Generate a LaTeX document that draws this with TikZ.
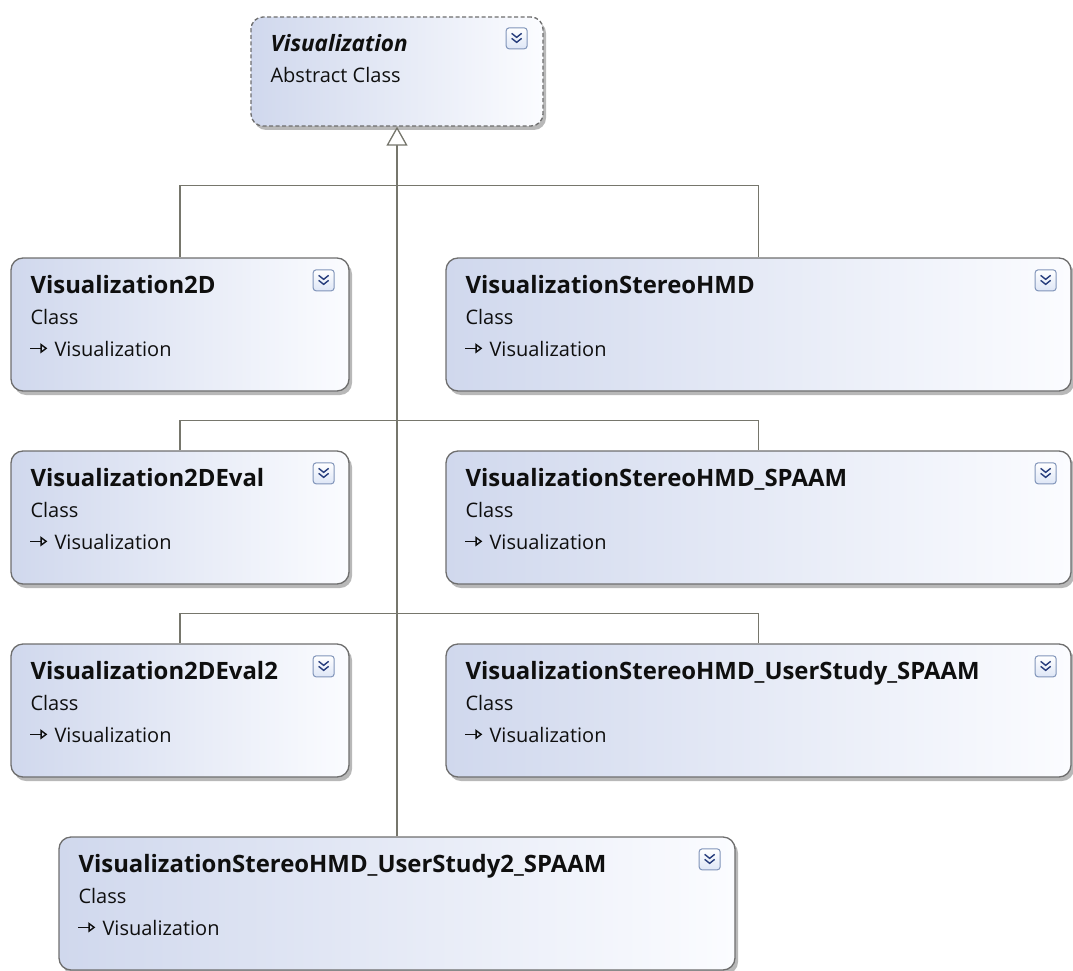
\documentclass[tikz,border=0pt]{standalone}
\usepackage{fontspec}
\setmainfont{Open Sans}
\usetikzlibrary{arrows.meta,shadows,calc}
\definecolor{lineC}{RGB}{118,118,108}
\definecolor{boxB}{RGB}{110,110,110}
\definecolor{fillL}{RGB}{208,216,237}
\definecolor{fillR}{RGB}{251,252,255}
\definecolor{icoB}{RGB}{128,148,185}
\definecolor{icoF}{RGB}{222,230,246}
\definecolor{chevC}{RGB}{40,62,125}
\definecolor{txtC}{RGB}{15,15,15}
\tikzset{
  umlbox/.style={draw=boxB, line width=1.3pt, rounded corners=12pt,
    left color=fillL, right color=fillR, inner sep=0pt,
    drop shadow={shadow xshift=3pt, shadow yshift=-4pt, fill=black, opacity=.28}},
  absbox/.style={umlbox, dash pattern=on 4pt off 2.5pt},
  ttl/.style={font=\fontsize{23.9}{27}\selectfont\bfseries, text=txtC, anchor=base west, inner sep=0pt},
  sub/.style={font=\fontsize{20}{24}\selectfont, text=txtC, anchor=base west, inner sep=0pt},
  icon/.style={draw=icoB, line width=1pt, rounded corners=3pt, minimum size=21pt,
    top color=white, bottom color=icoF, inner sep=0pt},
  chevron/.style={draw=chevC, line width=1.4pt},
  inh/.style={draw=txtC, line width=1.5pt, -{Triangle[open, length=7pt, width=10pt, line width=1.4pt]}},
  conn/.style={draw=lineC, line width=1.5pt},
}
\newcommand\clsbox[6]{%
  \node[#2, minimum width=#4pt, minimum height=#5pt] (#1) at (#3) {};
  \node[ttl] (#1-t) at ([shift={(20,36)}]#1.north west) {#6};
  \node[icon] (#1-i) at ([shift={(-26,23)}]#1.north east) {};
  \draw[chevron] ([shift={(-5,-5)}]#1-i.center) -- ++(5,4) -- ++(5,-4);
  \draw[chevron] ([shift={(-5,0)}]#1-i.center) -- ++(5,4) -- ++(5,-4);
}
\newcommand\clsinfo[1]{%
  \node[sub] (#1-k) at ([shift={(20,67)}]#1.north west) {Class};
  \draw[inh] ([shift={(20,91)}]#1.north west) coordinate (#1-a0) -- ++(17,0) coordinate (#1-a1);
  \node[sub] (#1-p) at ([shift={(44,99)}]#1.north west) {Visualization};
}
\begin{document}
\begin{tikzpicture}[x=1pt, y=-1pt]
\useasboundingbox (0,0) rectangle (1073,971);
% abstract class
\node[absbox, minimum width=292pt, minimum height=109pt] (abs) at (397,71.5) {};
\node[ttl, font=\fontsize{22.5}{26}\selectfont\bfseries\itshape] (abs-t) at ([shift={(20,35)}]abs.north west) {Visualization};
\node[sub] (abs-k) at ([shift={(20,66)}]abs.north west) {Abstract Class};
\node[icon] (abs-i) at ([shift={(-27,22)}]abs.north east) {};
\draw[chevron] ([shift={(-5,-5)}]abs-i.center) -- ++(5,4) -- ++(5,-4);
\draw[chevron] ([shift={(-5,0)}]abs-i.center) -- ++(5,4) -- ++(5,-4);
% classes
\clsbox{v2d}{umlbox}{180,324.5}{338}{133}{Visualization2D}\clsinfo{v2d}
\clsbox{hmd}{umlbox}{758.5,324.5}{625}{133}{VisualizationStereoHMD}\clsinfo{hmd}
\clsbox{v2de}{umlbox}{180,517.5}{338}{133}{Visualization2DEval}\clsinfo{v2de}
\clsbox{hmdsp}{umlbox}{758.5,517.5}{625}{133}{VisualizationStereoHMD\_SPAAM}\clsinfo{hmdsp}
\clsbox{v2de2}{umlbox}{180,710.5}{338}{133}{Visualization2DEval2}\clsinfo{v2de2}
\clsbox{hmdus}{umlbox}{758.5,710.5}{625}{133}{VisualizationStereoHMD\_UserStudy\_SPAAM}\clsinfo{hmdus}
\clsbox{us2}{umlbox}{397,903.5}{676}{133}{VisualizationStereoHMD\_UserStudy2\_SPAAM}\clsinfo{us2}
% connectors
\draw[conn] (v2d.north) -- ++(0,-72) -| (hmd.north);
\draw[conn] (v2de.north) -- ++(0,-30) -| (hmdsp.north);
\draw[conn] (v2de2.north) -- ++(0,-30) -| (hmdus.north);
\draw[conn, -{Triangle[length=19pt, width=21pt, fill=white, line width=1.3pt]}] (us2.north) -- (abs.south);
\end{tikzpicture}
\end{document}
